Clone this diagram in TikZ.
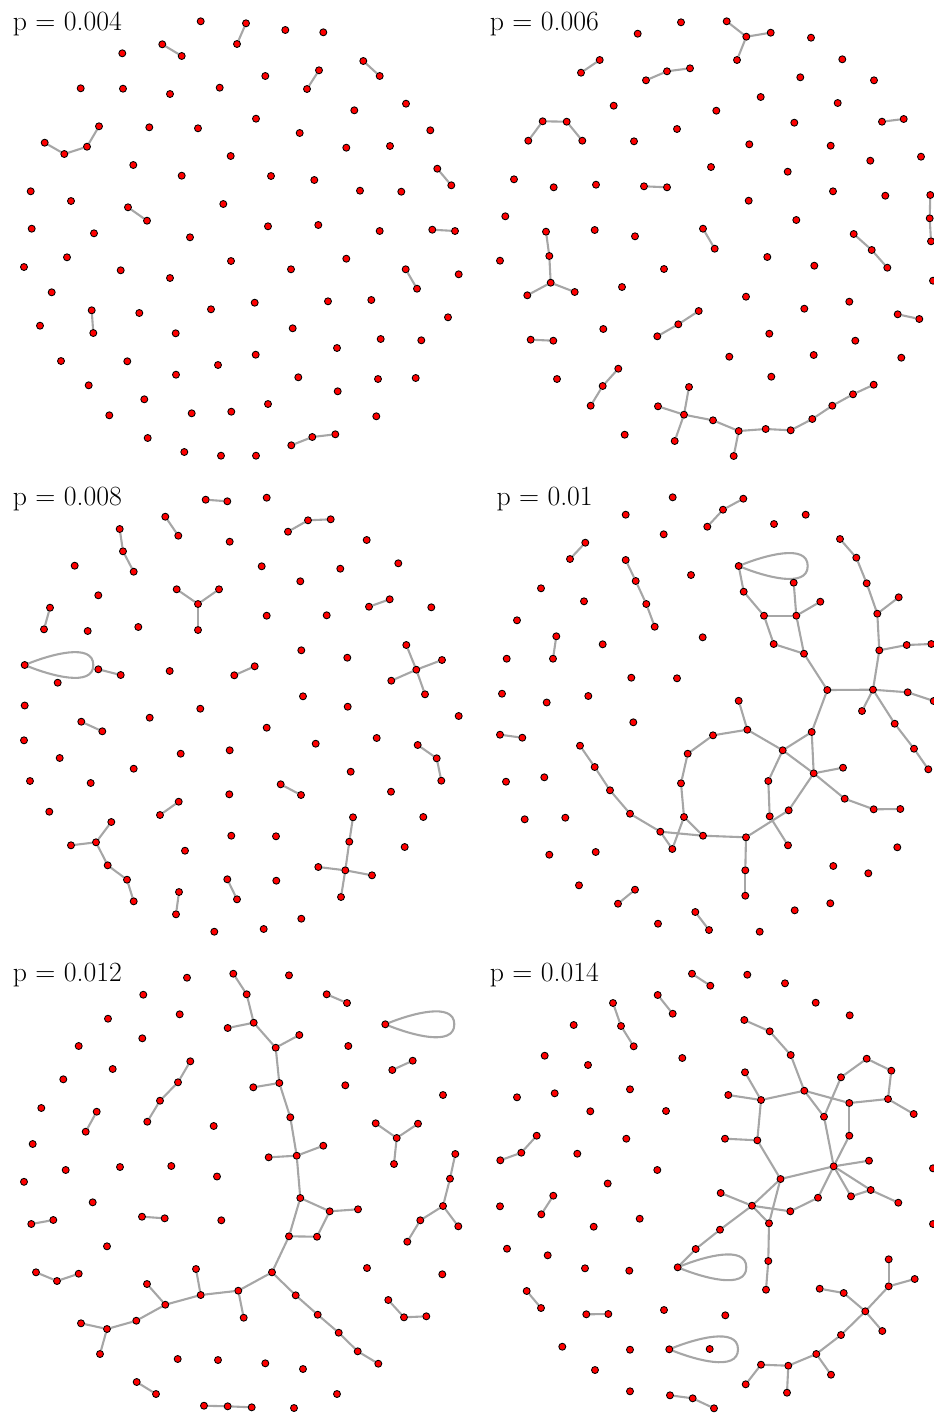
\documentclass[tikz,border=0pt]{standalone}
\usepackage{fontspec}
\pgfdeclarelayer{bg}
\pgfsetlayers{bg,main}
\tikzset{
  v/.style={circle, fill=red, draw=black, line width=0.85pt, inner sep=0pt, minimum size=7pt},
  e/.style={draw=black!35, line width=2.1pt},
  lab/.style={anchor=base west, inner sep=0pt, font=\fontsize{27.8}{32}\selectfont}
}
\begin{document}
\begin{tikzpicture}[x=1pt,y=-1pt]
\useasboundingbox (0,0) rectangle (934,1414);
% labels
\node[lab] (la) at (12.7,30) {p = 0.004};
\node[lab] (lb) at (489.7,30) {p = 0.006};
\node[lab] (lc) at (12.7,505) {p = 0.008};
\node[lab] (ld) at (496.3,505) {p = 0.01};
\node[lab] (le) at (12.7,981) {p = 0.012};
\node[lab] (lf) at (489.7,981) {p = 0.014};
% ---------- panel A
\foreach \n/\x/\y in {a1/200.7/21.3,a2/246/23.3,a3/237/44,a4/285.3/30,a5/323.3/32.3,a6/162.3/44.3,a7/181.7/56,a8/122.3/53.3,a9/363.3/61,a10/379.7/76,
a11/319/70.3,a12/307/89,a13/265.3/76,a14/80.7/88.3,a15/123/88.7,a16/170/94,a17/219.7/87.7,a18/354.3/110.3,a19/406/103.7,a20/256/118.7,
a21/99/126.3,a22/44.7/142.7,a23/64.3/154,a24/87/146.7,a25/149.3/127.3,a26/198/128.3,a27/299.7/133,a28/430.3/130.3,a29/346.3/147.7,a30/390/146,
a31/230.7/156,a32/133.3/165,a33/181.7/175.7,a34/271/176,a35/314.3/180,a36/437.3/168.7,a37/451.3/185.3,a38/30.7/191.3,a39/71/201,a40/360/190.7,
a41/401.3/191.7,a42/128/207.3,a43/147/220.7,a44/223.3/204,a45/31.7/228.7,a46/94/233.3,a47/190/237.3,a48/268/226.3,a49/318.3/225,a50/379.7/231,
a51/432.3/229.7,a52/455/231,a53/24/267,a54/67/257.3,a55/120.7/270.3,a56/170/278,a57/231/261,a58/291/269.3,a59/346.3/258.7,a60/405.7/269.3,
a61/417/288.7,a62/458.7/274.3,a63/51.7/292.3,a64/91.7/310.3,a65/93.3/333,a66/139.3/313,a67/211/309.3,a68/254.7/302.7,a69/328/301.3,a70/371.3/300,
a71/448/317.3,a72/40/325.7,a73/175.7/333.3,a74/292.7/328.3,a75/337/348,a76/380.7/339,a77/421.3/340.3,a78/61/361,a79/127.3/361.3,a80/218/365,
a81/255.7/354.7,a82/176/374.7,a83/298.3/377.3,a84/378/379,a85/415.7/378,a86/88.7/385.3,a87/144.3/399.3,a88/337.7/391.3,a89/109.3/415.3,a90/191.7/413.3,
a91/231.3/411.7,a92/268/404,a93/376.3/416.3,a94/147.7/438,a95/184.3/452,a96/221/455.7,a97/256/455.7,a98/291.3/445.3,a99/312.3/437,a100/335.3/434.3}
  {\node[v] (\n) at (\x,\y) {};}
% ---------- panel B
\foreach \n/\x/\y in {b1/637.7/33.7,b2/681/22.3,b3/726.7/21.3,b4/746.3/36.7,b5/770.7/32.7,b6/737/60,b7/811/37.7,b8/842.3/59.3,b9/599.7/60,b10/581/72.7,
b11/646/80.3,b12/667/71.3,b13/690/68.3,b14/800.3/77.3,b15/874/80.3,b16/760.7/97,b17/613.7/105.7,b18/716.3/110.7,b19/837.7/103,b20/542.7/121.3,
b21/566.7/121.7,b22/528.3/140.7,b23/582.3/140.7,b24/634/141.3,b25/677/129,b26/794.3/122.7,b27/882/121.7,b28/903.7/119,b29/749.3/144.3,b30/830.7/145.7,
b31/921/156.7,b32/870.3/160.7,b33/711/167,b34/787.7/171.7,b35/514/179.3,b36/553.7/187.3,b37/596/184.7,b38/644/186.3,b39/667/187.3,b40/748.7/200.7,
b41/833/191.3,b42/885.3/195.7,b43/930.3/195,b44/929.7/218.3,b45/931/241.3,b46/505.3/216.3,b47/796.3/220,b48/546/231.7,b49/549.3/256,b50/550.7/282.7,
b51/527.3/295.3,b52/574.7/292,b53/594.7/230,b54/635/236.3,b55/703/228.7,b56/714.7/248.7,b57/853.7/234,b58/871.7/250,b59/887.3/267.7,b60/933/280.7,
b61/500/260.7,b62/664/269,b63/622/287,b64/767.3/257,b65/814.3/265.7,b66/746/296.7,b67/804.3/308.7,b68/849.3/301.7,b69/897.7/314.3,b70/919.3/319,
b71/698.7/311,b72/678.3/324.3,b73/657.3/336.3,b74/530.7/339.7,b75/553.3/340.7,b76/603.3/329,b77/769.3/333.7,b78/855.3/340.7,b79/729.3/356.7,b80/813.7/355,
b81/901.3/357.7,b82/618.3/368.7,b83/602.7/386,b84/590.7/405.7,b85/557/379,b86/771.3/376.7,b87/689/387,b88/684/414.7,b89/658/406.3,b90/674.7/441,
b91/713/420.3,b92/738.7/431,b93/733.7/456,b94/765.7/429,b95/790.7/430.3,b96/812.3/419,b97/832.3/405.7,b98/853/394.3,b99/873.7/384.7,b100/624.7/434.7}
  {\node[v] (\n) at (\x,\y) {};}
% ---------- panel C
\foreach \n/\x/\y in {c1/205.7/499.7,c2/227.3/501.3,c3/266.7/497.7,c4/165.3/516.7,c5/178.3/535.7,c6/288/531.7,c7/308/520.3,c8/330.7/519.3,c9/119.7/529,c10/123/551.3,
c11/133.7/571.7,c12/229.7/541.7,c13/366.7/540,c14/74.7/565.7,c15/261.7/566.3,c16/340.3/568.7,c17/398.3/563.3,c18/300.3/581.3,c19/98.3/595.3,c20/176.7/589.3,
c21/219/589.3,c22/198/604,c23/198/630,c24/50/607.7,c25/44/629.3,c26/87.7/631,c27/138.3/627,c28/266.7/615.7,c29/326.7/615.3,c30/369/606.7,
c31/389.7/599.3,c32/431.3/607.3,c33/301.3/650.3,c34/347.3/657.7,c35/406.3/645,c36/416.3/669.7,c37/442/660,c38/391.3/680.7,c39/425/694.3,c40/24.7/665,
c41/57.7/682.7,c42/98.3/669.3,c43/120.7/675,c44/169.7/671,c45/234.3/675.3,c46/254.7/666.3,c47/303/696.3,c48/347.7/706.7,c49/24.7/705.5,c50/200.3/708.7,
c51/458.7/716,c52/81.3/721.7,c53/102.3/731.3,c54/149.7/717.7,c55/266.7/727.7,c56/24/740.3,c57/59.7/758,c58/180.7/753.7,c59/229.7/750.3,c60/315.7/743.7,
c61/376.7/738,c62/417.7/745,c63/436.7/758.3,c64/441.3/780.7,c65/133.7/768.7,c66/350.7/771.7,c67/30/781,c68/90.7/783,c69/280.7/784.3,c70/301/795,
c71/391/791.7,c72/229.3/794.3,c73/178.7/801.7,c74/160/815,c75/49.3/811.7,c76/111.3/822,c77/96/842.3,c78/71/845.3,c79/107.7/865.3,c80/127/879.7,
c81/133.7/901.3,c82/423.3/817,c83/353/817.3,c84/349.3/841.7,c85/345.3/870.3,c86/318.3/867,c87/372/875.3,c88/341/897,c89/231.3/835.7,c90/276/836.3,
c91/404.7/847,c92/185/850.7,c93/227.3/879.3,c94/237/899.3,c95/276.3/880.7,c96/179/892,c97/176/914.3,c98/301.3/918.7,c99/214.3/931.7,c100/263.7/929}
  {\node[v] (\n) at (\x,\y) {};}
% ---------- panel D
\foreach \n/\x/\y in {d1/672.7/497.3,d2/625.7/514.7,d3/743.3/498.7,d4/723/509.7,d5/707.3/526.7,d6/663.7/534.3,d7/774/524,d8/805.7/514.7,d9/585.3/542.7,d10/570/559,
d11/625.7/560,d12/635.7/581,d13/646.3/604,d14/654.7/626.7,d15/691/575,d16/840/539,d17/856.3/557.7,d18/866.7/583.3,d19/877.3/613.7,d20/879.3/650.3,
d21/873/689.7,d22/898.7/597.3,d23/906.7/645,d24/931.3/644,d25/907.7/692.3,d26/933.7/701,d27/738.7/566,d28/743.7/591.7,d29/764/615.7,d30/796.3/615.7,
d31/793.7/582.7,d32/820.3/601.7,d33/773.7/644,d34/804/653.7,d35/827.3/690,d36/541/588.3,d37/584/601.3,d38/517/620.3,d39/556.3/636.3,d40/553/658.7,
d41/602.7/644.3,d42/702.7/637.3,d43/506.7/658.7,d44/631.3/677.7,d45/677/678.3,d46/502/693.7,d47/546.7/702.5,d48/588.3/696,d49/738.7/700.8,d50/862/711,
d51/747.3/729.7,d52/894.7/723.7,d53/914/748.7,d54/928.3/769.3,d55/811.7/732,d56/633.3/722.3,d57/500/734.7,d58/522.3/737.7,d59/580/745.7,d60/594.7/767,
d61/610/790.3,d62/630/813.7,d63/660.3/831.7,d64/703/835.7,d65/746/837.3,d66/672.3/849,d67/684/817,d68/681/783.3,d69/687.7/753.7,d70/713/735.3,
d71/782.7/750.3,d72/813.7/773.3,d73/768.3/781,d74/769.7/816.3,d75/843/767.7,d76/788.7/810.3,d77/788/845.3,d78/844.7/798.7,d79/873.7/809.3,d80/900.3/809,
d81/745.3/870.3,d82/745.3/895.7,d83/506/781.7,d84/544.3/777.3,d85/524.7/819.3,d86/565.3/817.7,d87/549.3/854.7,d88/595.7/852,d89/579/885.3,d90/635/889.7,
d91/618/903.7,d92/658/923.7,d93/695.3/912,d94/709/930,d95/759.7/931.7,d96/794.7/910.3,d97/830.3/903.3,d98/833.3/866,d99/868.3/873.3,d100/897.3/847.3}
  {\node[v] (\n) at (\x,\y) {};}
% ---------- panel E
\foreach \n/\x/\y in {e1/187/977.7,e2/233.3/973.7,e3/246.7/994.3,e4/253.7/1022.7,e5/275.7/1047.7,e6/279.3/1083,e7/290.3/1117.3,e8/296.7/1155.7,e9/227.7/1028,e10/299.3/1035,
e11/253.3/1087.3,e12/268.7/1157.3,e13/323.3/1145.7,e14/289/975.3,e15/143.3/994.7,e16/326.7/994.3,e17/347/1003,e18/179.7/1014.3,e19/108/1018.7,e20/385.3/1024.3,
e21/78.7/1046,e22/142.3/1038.3,e23/348.3/1046,e24/190.3/1061.3,e25/178/1082.3,e26/160/1100.7,e27/147.3/1121.7,e28/112.7/1069,e29/392.3/1070,e30/412.7/1060.7,
e31/63.3/1079.3,e32/345.3/1085.3,e33/443/1095,e34/41.3/1108,e35/96.7/1111.7,e36/85.7/1131.7,e37/213.7/1126,e38/375.7/1123.3,e39/418/1123.7,e40/396.7/1138,
e41/394/1164,e42/32.7/1144,e43/455.3/1154,e44/450/1178.7,e45/443/1206,e46/458.3/1226.3,e47/420.3/1220.3,e48/407.3/1241.7,e49/65.7/1170,e50/120/1167,
e51/171.3/1166,e52/217/1176.5,e53/24/1181.8,e54/92.7/1202.3,e55/31.3/1224,e56/53.3/1220,e57/142/1216.7,e58/164.7/1218.3,e59/221.3/1220.3,e60/300.3/1198,
e61/329.7/1211.3,e62/358/1209.3,e63/289/1236.3,e64/317/1236.7,e65/272/1272.3,e66/107/1246.3,e67/36/1272.3,e68/57/1281,e69/78.7/1273.7,e70/196/1269,
e71/200.7/1295,e72/147/1284,e73/165.3/1304.7,e74/238.3/1290.7,e75/243.7/1317.7,e76/136.3/1320.7,e77/107/1329,e78/81/1323.3,e79/100/1354,e80/295.7/1295.3,
e81/317.7/1314.7,e82/338.7/1332.7,e83/357.7/1351.3,e84/378.3/1363.7,e85/367/1268,e86/442.3/1274.3,e87/388.3/1300,e88/404/1317.3,e89/426.3/1316.3,e90/177.7/1359,
e91/218/1360,e92/265.3/1363.3,e93/303/1369,e94/136.7/1382,e95/156/1394,e96/337/1394,e97/204/1405.7,e98/227.7/1406.3,e99/251.7/1407.3,e100/294/1408}
  {\node[v] (\n) at (\x,\y) {};}
% ---------- panel F
\foreach \n/\x/\y in {f1/692/973.7,f2/710.3/985.7,f3/747.3/974.7,f4/785/983.3,f5/815.7/1002.7,f6/849.7/1015.3,f7/657.7/995,f8/672.7/1013.7,f9/613/1003,f10/621/1026,
f11/633.7/1046.3,f12/573.7/1025,f13/544.7/1055.7,f14/588/1065,f15/682.3/1058,f16/744.3/1020,f17/769.7/1031.3,f18/790.7/1055,f19/804.3/1090.7,f20/745/1072.3,
f21/761/1100,f22/728.3/1095,f23/824/1116.7,f24/841/1077.3,f25/866.7/1058.7,f26/891.3/1070.7,f27/888/1099,f28/849.3/1103,f29/913.7/1114,f30/849.3/1135.7,
f31/833.7/1166.3,f32/869/1160.7,f33/780.5/1179,f34/725/1138.7,f35/757.3/1140.3,f36/517/1097.3,f37/554.7/1093.3,f38/630/1089.3,f39/590.3/1111.3,f40/666/1111,
f41/536.7/1135.7,f42/521.3/1152.7,f43/500.3/1160.3,f44/626.3/1138.7,f45/577.3/1153.7,f46/657.3/1170,f47/607.7/1183.5,f48/933/1168.3,f49/500/1206.3,f50/553.3/1195.7,
f51/541.3/1214.3,f52/593.7/1226.7,f53/639.7/1218.7,f54/720.7/1193,f55/752/1205.7,f56/790.3/1211.3,f57/769/1223.3,f58/720/1229.7,f59/695.7/1249,f60/677.7/1267.3,
f61/818/1197.7,f62/851/1196.3,f63/870.7/1190,f64/898.3/1202.7,f65/768.3/1261,f66/766/1289.7,f67/933/1224,f68/507/1248.7,f69/547.7/1255.3,f70/585/1268.3,
f71/629.3/1270.7,f72/526.7/1291,f73/541/1308,f74/586.3/1314.3,f75/608.3/1314,f76/664/1310,f77/725.3/1315.3,f78/562.3/1346.7,f79/630/1349.7,f80/669.3/1349.3,
f81/709.7/1349,f82/595/1370,f83/630/1391.3,f84/670/1395.3,f85/692.7/1398.3,f86/714/1408.3,f87/888.7/1259.3,f88/888.7/1286.3,f89/914.7/1279,f90/865.3/1311.3,
f91/819.7/1288.7,f92/843.7/1293,f93/882.3/1331,f94/841/1335,f95/816.3/1354,f96/831/1374.7,f97/788.3/1365.7,f98/761/1364.7,f99/745.7/1384.3,f100/787/1392.7}
  {\node[v] (\n) at (\x,\y) {};}
% loop tips
\coordinate (c40t) at (93.3,665);
\coordinate (d27t) at (807.7,566);
\coordinate (e20t) at (454.3,1024.3);
\coordinate (f60t) at (746.3,1267.3);
\coordinate (f80t) at (738,1349.3);
% ---------- edges
\begin{pgfonlayer}{bg}
\foreach \s/\t in {a2/a3,a6/a7,a9/a10,a11/a12,a22/a23,a23/a24,a24/a21,a36/a37,a42/a43,a51/a52,a60/a61,a64/a65,a98/a99,a99/a100,
b3/b4,b4/b5,b4/b6,b9/b10,b11/b12,b12/b13,b22/b20,b20/b21,b21/b23,b27/b28,b38/b39,b43/b44,b44/b45,b48/b49,b49/b50,b50/b51,b50/b52,
b55/b56,b57/b58,b58/b59,b69/b70,b71/b72,b72/b73,b74/b75,b82/b83,b83/b84,b87/b88,b89/b88,b90/b88,b88/b91,b91/b92,b92/b93,b92/b94,b94/b95,b95/b96,b96/b97,b97/b98,b98/b99,
c1/c2,c4/c5,c6/c7,c7/c8,c9/c10,c10/c11,c20/c22,c21/c22,c22/c23,c24/c25,c30/c31,c35/c36,c36/c37,c36/c38,c36/c39,c42/c43,c45/c46,c52/c53,
c62/c63,c63/c64,c69/c70,c73/c74,c76/c77,c78/c77,c77/c79,c79/c80,c80/c81,c83/c84,c84/c85,c86/c85,c85/c87,c85/c88,c93/c94,c96/c97,
d3/d4,d4/d5,d9/d10,d11/d12,d12/d13,d13/d14,d16/d17,d17/d18,d18/d19,d19/d20,d20/d21,d19/d22,d20/d23,d23/d24,d21/d25,d25/d26,
d27/d28,d28/d29,d29/d30,d31/d30,d30/d32,d29/d33,d33/d34,d30/d34,d34/d35,d35/d21,d39/d40,d49/d51,d21/d50,d21/d52,d52/d53,d53/d54,d35/d55,
d57/d58,d59/d60,d60/d61,d61/d62,d62/d63,d63/d64,d64/d65,d63/d66,d66/d67,d67/d64,d67/d68,d68/d69,d69/d70,d70/d51,d51/d71,d71/d72,d71/d55,d55/d72,
d71/d73,d73/d74,d72/d75,d72/d76,d76/d65,d74/d77,d72/d78,d78/d79,d79/d80,d65/d81,d81/d82,d90/d91,d93/d94,
e2/e3,e3/e4,e4/e5,e5/e6,e6/e7,e7/e8,e9/e4,e10/e5,e11/e6,e12/e8,e13/e8,e16/e17,e24/e25,e25/e26,e26/e27,e29/e30,e35/e36,e38/e40,e39/e40,e40/e41,
e43/e44,e44/e45,e45/e46,e45/e47,e47/e48,e55/e56,e57/e58,e8/e60,e60/e61,e61/e62,e61/e64,e60/e63,e63/e64,e63/e65,e67/e68,e68/e69,e70/e71,e72/e73,e74/e75,
e65/e74,e74/e71,e71/e73,e73/e76,e76/e77,e78/e77,e77/e79,e65/e80,e80/e81,e81/e82,e82/e83,e83/e84,e87/e88,e88/e89,e94/e95,e97/e98,e98/e99,
f1/f2,f7/f8,f9/f10,f10/f11,f16/f17,f17/f18,f18/f19,f20/f21,f22/f21,f21/f19,f19/f23,f23/f24,f24/f25,f25/f26,f26/f27,f19/f28,f28/f27,f27/f29,f28/f30,
f30/f31,f23/f31,f31/f32,f31/f33,f34/f35,f21/f35,f35/f33,f41/f42,f42/f43,f50/f51,f54/f55,f55/f33,f55/f56,f55/f57,f33/f57,f55/f58,f58/f59,f59/f60,
f56/f61,f61/f31,f31/f62,f31/f63,f62/f63,f63/f64,f57/f65,f65/f66,f72/f73,f74/f75,f84/f85,f85/f86,
f87/f88,f89/f88,f88/f90,f91/f92,f92/f90,f90/f93,f90/f94,f94/f95,f95/f96,f95/f97,f97/f98,f98/f99,f97/f100}
  {\draw[e] (\s) -- (\t);}
\draw[e] (c40) to[out=22,in=90,looseness=0.9] (c40t) to[out=-90,in=-22,looseness=0.9] (c40);
\draw[e] (d27) to[out=22,in=90,looseness=0.9] (d27t) to[out=-90,in=-22,looseness=0.9] (d27);
\draw[e] (e20) to[out=22,in=90,looseness=0.9] (e20t) to[out=-90,in=-22,looseness=0.9] (e20);
\draw[e] (f60) to[out=22,in=90,looseness=0.9] (f60t) to[out=-90,in=-22,looseness=0.9] (f60);
\draw[e] (f80) to[out=22,in=90,looseness=0.9] (f80t) to[out=-90,in=-22,looseness=0.9] (f80);
\end{pgfonlayer}
\end{tikzpicture}
\end{document}
